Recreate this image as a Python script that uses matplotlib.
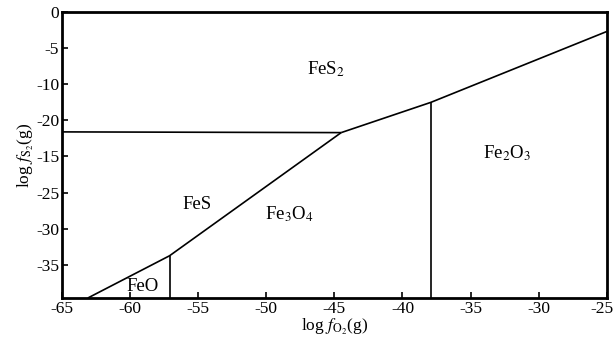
import matplotlib
matplotlib.use('Agg')
import matplotlib.pyplot as plt
import matplotlib.transforms as mtransforms

plt.rcParams['font.family'] = ['Liberation Serif', 'DejaVu Serif']
plt.rcParams['mathtext.fontset'] = 'stix'
plt.rcParams['font.size'] = 12

# phase boundaries (log fO2, log fS2)
pyrite_x = [-65, -44.5]
pyrite_y = [-16.6, -16.7]
upper_x = [-44.5, -37.9, -25]
upper_y = [-16.7, -12.5, -2.7]
lower_x = [-63.1, -57.1, -44.5]
lower_y = [-39.6, -33.75, -16.7]
feo_x = [-57.1, -57.1]
feo_y = [-39.6, -33.75]
hem_x = [-37.9, -37.9]
hem_y = [-39.6, -12.5]

phases = ['FeS$_2$', 'FeS', 'Fe$_3$O$_4$', 'Fe$_2$O$_3$', 'FeO']
phase_x = [-45.6, -55.1, -48.3, -32.3, -59.1]
phase_y = [-7.9, -26.6, -28.0, -19.5, -38.0]

yticks = [0, -5, -10, -15, -20, -25, -30, -35]
ytick_labels = ['0', '-5', '-10', '-20', '-15', '-25', '-30', '-35']
xticks = [-65, -60, -55, -50, -45, -40, -35, -30, -25]

fig = plt.figure(figsize=(6.16, 3.47), dpi=100)
ax = fig.add_axes([0.1006, 0.1412, 0.8844, 0.8242])

lw = 1.2
for xs, ys in [(pyrite_x, pyrite_y), (upper_x, upper_y), (lower_x, lower_y),
               (feo_x, feo_y), (hem_x, hem_y)]:
    ax.plot(xs, ys, color='black', lw=lw, solid_capstyle='butt')

for name, x, y in zip(phases, phase_x, phase_y):
    ax.text(x, y, name, ha='center', va='center', fontsize=13.5)

ax.set_xlim(-65, -25)
ax.set_ylim(-39.6, 0)
ax.set_xticks(xticks)
ax.set_xticklabels([str(v) for v in xticks])
ax.set_yticks(yticks)
ax.set_yticklabels(ytick_labels)
ax.tick_params(direction='in', length=4, width=1.2, labelsize=12.5, pad=2)
for s in ax.spines.values():
    s.set_linewidth(2)

# last x tick label sits against the right edge, nudge it inside
last = ax.get_xticklabels()[-1]
last.set_transform(last.get_transform() +
                   mtransforms.ScaledTranslation(-5 / 100, 0, fig.dpi_scale_trans))

ax.set_xlabel(r'log $f_{\mathrm{O_2}}$(g)', fontsize=12.5, labelpad=0)
ax.set_ylabel(r'log $f_{\mathrm{S_2}}$(g)', fontsize=12.5, labelpad=0)

fig.savefig('out.png', dpi=100)
